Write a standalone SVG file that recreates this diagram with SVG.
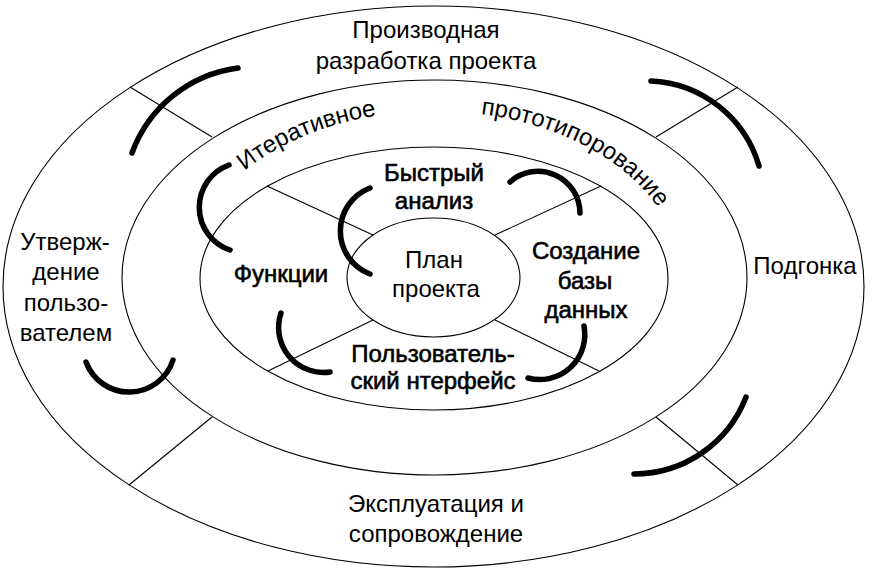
<svg xmlns="http://www.w3.org/2000/svg" width="876" height="571" viewBox="0 0 876 571">
<style>
.ring{fill:none;stroke:#000;stroke-width:1.1}
.div{stroke:#000;stroke-width:1.1}
.arc{fill:none;stroke:#000;stroke-width:5.5;stroke-linecap:round}
text{font-family:"Liberation Sans",Arial,sans-serif;font-size:24px;fill:#000;text-anchor:middle}
.b{stroke:#000;stroke-width:0.6}
</style>
<defs>
<path id="tp" d="M187,278 A247,167 0 0 1 681,278"/>
</defs>
<rect width="876" height="571" fill="#fff"/>
<g id="rings" class="ring">
<ellipse cx="433.5" cy="286.5" rx="430.5" ry="280.5"/>
<ellipse cx="434.5" cy="277.5" rx="312.5" ry="197.5"/>
<ellipse cx="434" cy="278.5" rx="234" ry="131.5"/>
<ellipse cx="433.5" cy="277.5" rx="86.5" ry="59.5"/>
</g>
<g id="connectors">
<g class="div">
<line x1="130" y1="87" x2="212" y2="137"/>
<line x1="738" y1="87" x2="656" y2="137"/>
<line x1="212" y1="417" x2="129" y2="485"/>
<line x1="656" y1="417" x2="738" y2="485"/>
<line x1="267" y1="186" x2="373" y2="235"/>
<line x1="601" y1="186" x2="495" y2="235"/>
<line x1="373" y1="320" x2="268" y2="371"/>
<line x1="495" y1="320" x2="599" y2="371"/>
</g>
<g class="arc">
<path d="M238,68 A131,131 0 0 0 132,153"/>
<path d="M651,81 A118,118 0 0 1 759,166"/>
<path d="M86,362 A46,46 0 0 0 173,360"/>
<path d="M746,397 A120,120 0 0 1 634,474"/>
<path d="M229,165 A45,45 0 0 0 230,250"/>
<path d="M370,188 A46,46 0 0 0 370,274"/>
<path d="M510,182 A42,42 0 0 1 580,213"/>
<path d="M281,313 A45,45 0 0 0 330,372"/>
<path d="M584,326 A45,45 0 0 1 528,378"/>
</g>
</g>
<g id="derived">
<text x="426" y="38">Производная</text>
<text x="426" y="69">разработка проекта</text>
</g>
<g id="iterative">
<text><textPath href="#tp" startOffset="198">Итеративное</textPath></text>
</g>
<g id="prototyping">
<text><textPath href="#tp" startOffset="478">прототипорование</textPath></text>
</g>
<g id="approval">
<text x="65" y="250">Утверж-</text>
<text x="66" y="280">дение</text>
<text x="66" y="311">пользо-</text>
<text x="66" y="341">вателем</text>
</g>
<g id="tuning">
<text x="805" y="274">Подгонка</text>
</g>
<g id="operation">
<text x="436" y="512">Эксплуатация и</text>
<text x="436" y="542">сопровождение</text>
</g>
<g id="analysis">
<text class="b" x="434" y="181">Быстрый</text>
<text class="b" x="434" y="209">анализ</text>
</g>
<g id="plan">
<text x="434" y="268">План</text>
<text x="436" y="297">проекта</text>
</g>
<g id="functions">
<text class="b" x="281" y="282">Функции</text>
</g>
<g id="database">
<text class="b" x="586" y="259">Создание</text>
<text class="b" x="585" y="289">базы</text>
<text class="b" x="586" y="318">данных</text>
</g>
<g id="interface">
<text class="b" x="433" y="362">Пользователь-</text>
<text class="b" x="433" y="389">ский нтерфейс</text>
</g>
</svg>
